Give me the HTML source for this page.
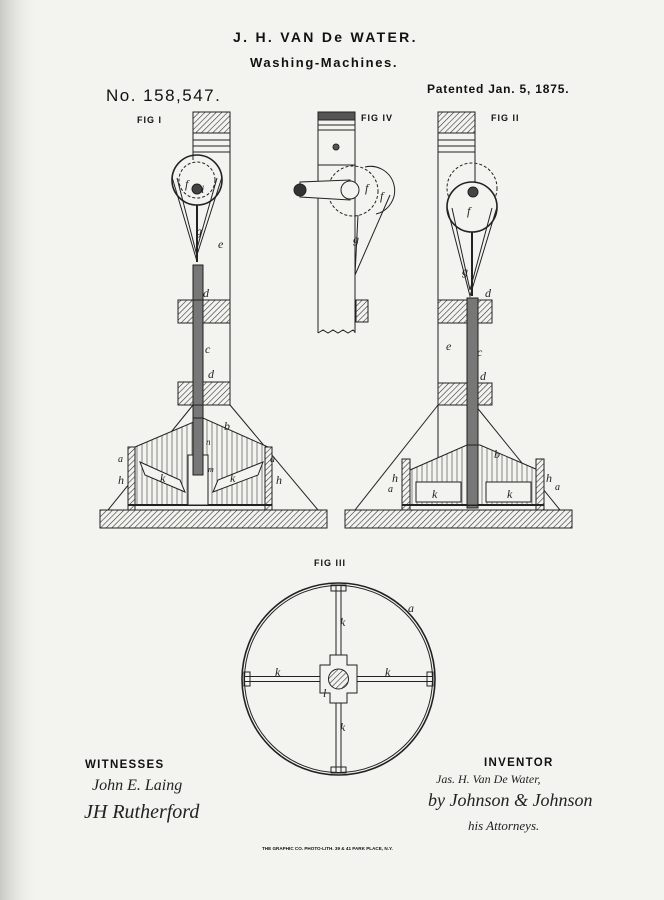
<!DOCTYPE html>
<html><head><meta charset="utf-8"><style>
html,body{margin:0;padding:0;background:#f3f3ef;}
svg{display:block}
text{font-family:"Liberation Sans",sans-serif;fill:#111}
.b{font-weight:bold}
.it{font-family:"Liberation Serif",serif;font-style:italic;fill:#222}
</style></head><body>
<svg width="664" height="900" viewBox="0 0 664 900" xmlns="http://www.w3.org/2000/svg">
<defs>
<pattern id="h" width="4" height="4" patternUnits="userSpaceOnUse" patternTransform="rotate(45)">
<rect width="4" height="4" fill="#f3f3ef"/><line x1="0" y1="0" x2="0" y2="4" stroke="#333" stroke-width="1.2"/></pattern>
<pattern id="v" width="5" height="5" patternUnits="userSpaceOnUse">
<rect width="5" height="5" fill="#f3f3ef"/><line x1="2" y1="0" x2="2" y2="5" stroke="#555" stroke-width="0.7"/></pattern>
<linearGradient id="edge" x1="0" x2="1"><stop offset="0" stop-color="#c8c8c4"/><stop offset="1" stop-color="#f3f3ef" stop-opacity="0"/></linearGradient>
</defs>
<rect width="664" height="900" fill="#f3f3ef"/>
<rect width="40" height="900" fill="url(#edge)"/>

<text x="233" y="42" class="b" font-size="14" letter-spacing="2.3">J. H. VAN De WATER.</text>
<text x="250" y="67" class="b" font-size="13" letter-spacing="1.6">Washing-Machines.</text>
<text x="106" y="101" font-size="17" letter-spacing="1.5">No. 158,547.</text>
<text x="427" y="93" font-size="12" letter-spacing="0.8" class="b">Patented Jan. 5, 1875.</text>
<text x="137" y="123" class="b" font-size="9" letter-spacing="1">FIG I</text>
<text x="361" y="121" class="b" font-size="9" letter-spacing="1">FIG IV</text>
<text x="491" y="121" class="b" font-size="9" letter-spacing="1">FIG II</text>
<text x="314" y="566" class="b" font-size="9" letter-spacing="1">FIG III</text>

<g stroke="#222" stroke-width="1" fill="none">
<!-- FIG I -->
<rect x="193" y="112" width="37" height="21" fill="url(#h)"/>
<line x1="193" y1="133" x2="193" y2="160"/><line x1="230" y1="133" x2="230" y2="405"/>
<line x1="193" y1="140" x2="230" y2="140"/><line x1="193" y1="146" x2="230" y2="146"/><line x1="193" y1="152" x2="230" y2="152"/>
<line x1="193" y1="405" x2="108" y2="510"/><line x1="230" y1="405" x2="318" y2="510"/>
<circle cx="197" cy="180" r="25" stroke-width="1.6"/>
<circle cx="197" cy="180" r="18" stroke-dasharray="3 2"/>
<circle cx="197" cy="189" r="5" fill="#444"/>
<path d="M172 177 L196 258 L222 177"/>
<path d="M177 178 L196 252 L217 178"/>
<line x1="197" y1="205" x2="197" y2="262" stroke-width="2"/>
<rect x="193" y="265" width="10" height="210" fill="#777"/>
<rect x="178" y="300" width="52" height="23" fill="url(#h)"/>
<rect x="178" y="382" width="52" height="23" fill="url(#h)"/>
<rect x="193" y="300" width="10" height="105" fill="#777"/>
<path d="M135 447 L203 418 L268 447 L268 505 L135 505 Z" fill="url(#v)"/>
<rect x="128" y="447" width="7" height="63" fill="url(#h)"/>
<rect x="265" y="447" width="7" height="63" fill="url(#h)"/>
<line x1="128" y1="505" x2="272" y2="505" stroke-width="2"/>
<rect x="188" y="455" width="20" height="50" fill="#f3f3ef"/>
<rect x="193" y="418" width="10" height="57" fill="#777"/>
<path d="M140 462 L180 480 L185 492 L145 475 Z" fill="#f3f3ef"/>
<path d="M263 462 L218 480 L213 492 L258 475 Z" fill="#f3f3ef"/>
<rect x="100" y="510" width="227" height="18" fill="url(#h)"/>

<!-- FIG IV -->
<rect x="318" y="112" width="37" height="8" fill="#555"/>
<line x1="318" y1="125" x2="355" y2="125"/><line x1="318" y1="130" x2="355" y2="130"/>
<line x1="318" y1="112" x2="318" y2="333"/><line x1="355" y1="112" x2="355" y2="333"/>
<path d="M318 333 l5 -3 l5 3 l5 -3 l5 3 l5 -3 l5 3 l5 -3 l2 2"/>
<line x1="318" y1="165" x2="355" y2="165"/>
<circle cx="336" cy="147" r="3" fill="#555"/>
<circle cx="353" cy="191" r="25" stroke-dasharray="3 2"/>
<path d="M365 167 A24 24 0 0 1 376 214"/>
<path d="M350 180 L300 182 L300 197 L350 200 Z" fill="#f3f3ef"/>
<circle cx="350" cy="190" r="9" fill="#f3f3ef"/>
<circle cx="300" cy="190" r="6" fill="#333"/>
<path d="M358 215 L355 275 L390 195"/>
<rect x="356" y="300" width="12" height="22" fill="url(#h)"/>

<!-- FIG II -->
<rect x="438" y="112" width="37" height="21" fill="url(#h)"/>
<line x1="438" y1="133" x2="438" y2="460"/><line x1="475" y1="133" x2="475" y2="190"/>
<line x1="438" y1="140" x2="475" y2="140"/><line x1="438" y1="146" x2="475" y2="146"/><line x1="438" y1="152" x2="475" y2="152"/>
<line x1="438" y1="405" x2="355" y2="510"/><line x1="475" y1="405" x2="560" y2="510"/>
<circle cx="472" cy="188" r="25" stroke-dasharray="3 2"/>
<circle cx="472" cy="207" r="25" stroke-width="1.6" fill="#f3f3ef"/>
<circle cx="473" cy="192" r="5" fill="#444"/>
<path d="M447 207 L470 296 L497 207"/>
<path d="M452 208 L470 290 L492 208"/>
<line x1="472" y1="232" x2="472" y2="296" stroke-width="2"/>
<rect x="438" y="300" width="54" height="23" fill="url(#h)"/>
<rect x="438" y="383" width="54" height="22" fill="url(#h)"/>
<rect x="467" y="298" width="11" height="210" fill="#777"/>
<path d="M410 470 L467 445 L480 445 L538 470 L538 505 L410 505 Z" fill="url(#v)"/>
<rect x="402" y="459" width="8" height="51" fill="url(#h)"/>
<rect x="536" y="459" width="8" height="51" fill="url(#h)"/>
<line x1="402" y1="505" x2="544" y2="505" stroke-width="2"/>
<rect x="416" y="482" width="45" height="20" fill="#f3f3ef"/>
<rect x="486" y="482" width="45" height="20" fill="#f3f3ef"/>
<rect x="467" y="445" width="11" height="60" fill="#777"/>
<rect x="345" y="510" width="227" height="18" fill="url(#h)"/>

<!-- FIG III -->
<ellipse cx="338.5" cy="679" rx="96.5" ry="96" stroke-width="1.6"/>
<ellipse cx="338.5" cy="679" rx="94" ry="93.5"/>
<line x1="336" y1="585" x2="336" y2="773"/><line x1="341" y1="585" x2="341" y2="773"/>
<line x1="244" y1="676.5" x2="433" y2="676.5"/><line x1="244" y1="681.5" x2="433" y2="681.5"/>
<path d="M330 655 h17 v10 h10 v28 h-10 v10 h-17 v-10 h-10 v-28 h10 z" fill="#f3f3ef"/>
<circle cx="338.5" cy="679" r="10" fill="url(#h)"/>
<rect x="331" y="585" width="15" height="6"/><rect x="331" y="767" width="15" height="6"/>
<rect x="244" y="672" width="6" height="14"/><rect x="427" y="672" width="6" height="14"/>
</g>

<g class="it" font-size="12">
<text x="185" y="188" class="it">f</text><text x="201" y="193" class="it">i</text>
<text x="196" y="235" class="it">g</text><text x="218" y="248" class="it">e</text>
<text x="203" y="297" class="it">d</text><text x="205" y="353" class="it">c</text><text x="208" y="378" class="it">d</text>
<text x="224" y="430" class="it">b</text><text x="206" y="445" class="it" font-size="9">n</text>
<text x="118" y="462" class="it" font-size="10">a</text><text x="270" y="462" class="it" font-size="10">a</text>
<text x="118" y="484" class="it">h</text><text x="276" y="484" class="it">h</text>
<text x="160" y="482" class="it">k</text><text x="230" y="482" class="it">k</text>
<text x="208" y="472" class="it" font-size="8">m</text>
<text x="365" y="192" class="it">f</text><text x="380" y="200" class="it">f</text><text x="353" y="243" class="it">g</text>
<text x="462" y="275" class="it">g</text><text x="467" y="215" class="it">f</text>
<text x="485" y="297" class="it">d</text><text x="477" y="356" class="it">c</text><text x="480" y="380" class="it">d</text>
<text x="446" y="350" class="it">e</text><text x="494" y="458" class="it">b</text>
<text x="392" y="482" class="it">h</text><text x="546" y="482" class="it">h</text>
<text x="388" y="492" class="it" font-size="10">a</text><text x="555" y="490" class="it" font-size="10">a</text>
<text x="432" y="498" class="it">k</text><text x="507" y="498" class="it">k</text>
<text x="340" y="626" class="it">k</text><text x="340" y="731" class="it">k</text>
<text x="275" y="676" class="it">k</text><text x="385" y="676" class="it">k</text>
<text x="323" y="697" class="it">l</text><text x="408" y="612" class="it">a</text>
</g>

<text x="85" y="768" class="b" font-size="11.5" letter-spacing="1.3">WITNESSES</text>
<text x="484" y="766" class="b" font-size="11.5" letter-spacing="1.3">INVENTOR</text>
<text x="92" y="790" class="it" font-size="16">John E. Laing</text>
<text x="84" y="818" class="it" font-size="20">JH Rutherford</text>
<text x="436" y="783" class="it" font-size="12">Jas. H. Van De Water,</text>
<text x="428" y="806" class="it" font-size="18">by Johnson &amp; Johnson</text>
<text x="468" y="830" class="it" font-size="13">his Attorneys.</text>
<text x="262" y="850" font-size="4.6" class="b">THE GRAPHIC CO. PHOTO-LITH. 39 &amp; 41 PARK PLACE, N.Y.</text>
</svg>
</body></html>
